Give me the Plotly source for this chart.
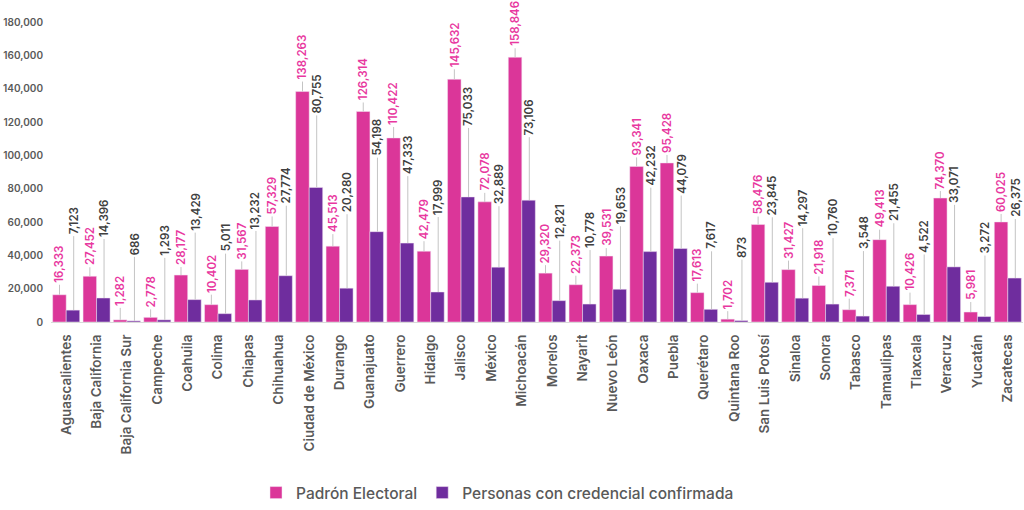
import plotly.graph_objects as go

# Data
estados = ['Aguascalientes', 'Baja California', 'Baja California Sur', 'Campeche', 'Coahuila', 'Colima',
           'Chiapas', 'Chihuahua', 'Ciudad de México', 'Durango', 'Guanajuato', 'Guerrero', 'Hidalgo',
           'Jalisco', 'México', 'Michoacán', 'Morelos', 'Nayarit', 'Nuevo León', 'Oaxaca', 'Puebla',
           'Querétaro', 'Quintana Roo', 'San Luis Potosí', 'Sinaloa', 'Sonora', 'Tabasco', 'Tamaulipas',
           'Tlaxcala', 'Veracruz', 'Yucatán', 'Zacatecas']
padron = [16333, 27452, 1282, 2778, 28177, 10402, 31567, 57329, 138263, 45513, 126314, 110422, 42479,
          145632, 72078, 158846, 29320, 22373, 39531, 93341, 95428, 17613, 1702, 58476, 31427, 21918,
          7371, 49413, 10426, 74370, 5981, 60025]
confirmadas = [7123, 14396, 686, 1293, 13429, 5011, 13232, 27774, 80755, 20280, 54198, 47333, 17999,
               75033, 32889, 73106, 12821, 10778, 19653, 42232, 44079, 7617, 873, 23845, 14297, 10760,
               3548, 21455, 4522, 33071, 3272, 26375]

# Length of the leader lines (px)
lift_padron = [11, 10, 13, 9, 9, 11, 9, 11, 11, 13, 10, 12, 11, 11, 10, 10, 9, 10, 9, 10, 9, 10, 9, 9,
               10, 10, 12, 11, 13, 8, 11, 9]
lift_confirmadas = [75, 60, 65, 63, 68, 61, 70, 71, 73, 75, 75, 68, 76, 70, 62, 64, 61, 55, 64, 65, 54,
                    59, 62, 66, 71, 67, 66, 64, 61, 63, 62, 60]

ROSA = '#DB3699'
MORADO = '#6F2D9E'
GRIS = '#595959'
FUENTE = 'Inter'

fig = go.Figure()
fig.add_bar(x=estados, y=padron, name='Padrón Electoral', marker_color=ROSA,
            marker_line=dict(color='#F3E3F2', width=0.5))
fig.add_bar(x=estados, y=confirmadas, name='Personas con credencial confirmada', marker_color=MORADO,
            marker_line=dict(color='#F3E3F2', width=0.5))

# Data labels with leader lines
for serie, lifts, shift, color in [(padron, lift_padron, -6.7, '#E8389F'),
                                   (confirmadas, lift_confirmadas, 7.5, '#404040')]:
    for estado, valor, lift in zip(estados, serie, lifts):
        # leader line
        fig.add_annotation(
            x=estado, y=valor, xshift=shift, text=' ',
            showarrow=True, arrowhead=0, arrowwidth=1, arrowcolor='#C4C4C4',
            ax=0, ay=-lift, font=dict(size=1), borderpad=0
        )
        # value
        fig.add_annotation(
            x=estado, y=valor, xshift=shift, yshift=lift + 1,
            text=f'{valor:,}', textangle=-90,
            showarrow=False, yanchor='bottom', xanchor='center',
            borderpad=0, borderwidth=0,
            font=dict(family=FUENTE, size=11.5, color=color, weight=600)
        )

fig.update_layout(
    width=1024,
    height=510,
    margin=dict(l=51, r=1, t=22, b=188),
    barmode='group',
    bargap=0.11,
    bargroupgap=0,
    paper_bgcolor='white',
    plot_bgcolor='white',
    font=dict(family=FUENTE, color=GRIS),
    showlegend=True,
    legend=dict(
        orientation='h',
        xref='container', yref='container',
        x=0.25, xanchor='left',
        y=-0.012, yanchor='bottom',
        font=dict(family=FUENTE, size=15.5, color=GRIS, weight=500),
    ),
    xaxis=dict(
        tickangle=-90,
        tickfont=dict(family=FUENTE, size=13.5, color=GRIS, weight=600),
        ticklabelstandoff=6,
        showgrid=False,
        showline=True,
        linecolor='#D9D9D9',
        linewidth=1,
        ticks='',
        automargin=False,
    ),
    yaxis=dict(
        range=[0, 180000],
        tick0=0,
        dtick=20000,
        tickformat=',',
        tickfont=dict(family=FUENTE, size=10, color=GRIS, weight=600),
        ticklabelstandoff=7,
        showgrid=False,
        zeroline=False,
        showline=False,
        ticks='',
        automargin=False,
    ),
)

fig.write_html('out.html', config={'displayModeBar': False},
               post_script="document.body.style.margin='0';")
